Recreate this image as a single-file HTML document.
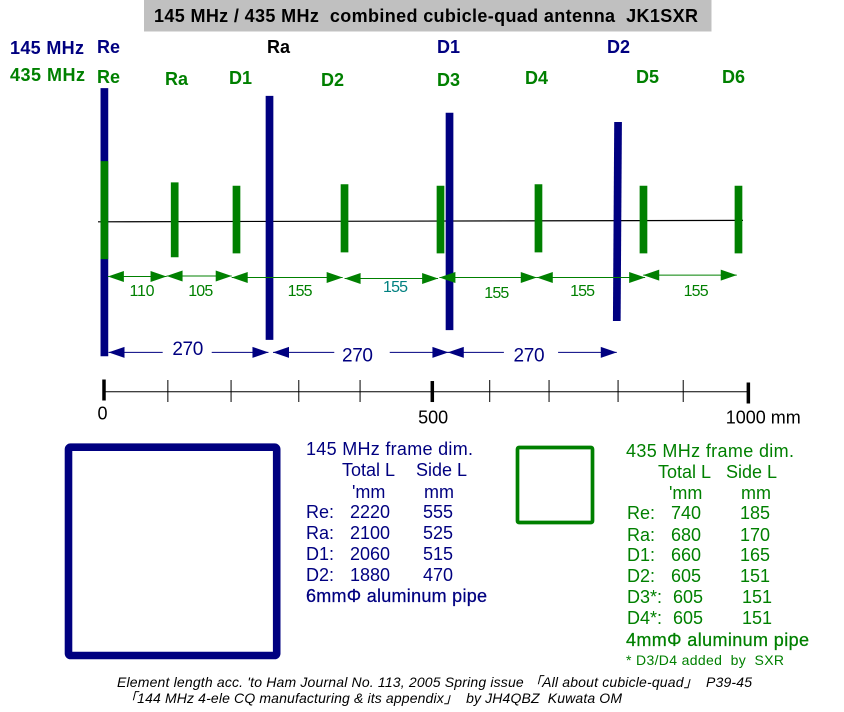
<!DOCTYPE html>
<html lang="en">
<head>
<meta charset="utf-8">
<title>145 MHz / 435 MHz combined cubicle-quad antenna</title>
<style>
html,body{margin:0;padding:0;background:#fff;width:844px;height:712px;overflow:hidden}
svg{display:block;font-family:"Liberation Sans","Noto Sans CJK JP",sans-serif}
.b{font-weight:bold;font-size:18px}
.t{font-size:18px}
.n{fill:#000080}
.g{fill:#008000}
.f{font-size:14px;font-style:italic;fill:#000}
</style>
</head>
<body>
<svg id="chart" xmlns="http://www.w3.org/2000/svg" width="844" height="712" viewBox="0 0 844 712">
<rect x="144" y="0" width="567.500" height="31.500" fill="#c0c0c0"/>
<text class="b" x="154" y="22" textLength="544">145 MHz / 435 MHz &#160;combined cubicle-quad antenna &#160;JK1SXR</text>

<text class="b n" x="10" y="54" textLength="74">145 MHz</text>
<text class="b g" x="10" y="81" textLength="75">435 MHz</text>

<text class="b n" x="97" y="53">Re</text>
<text class="b" fill="#000" x="267" y="53">Ra</text>
<text class="b n" x="437" y="53">D1</text>
<text class="b n" x="607" y="53">D2</text>

<text class="b g" x="97" y="83">Re</text>
<text class="b g" x="165" y="85">Ra</text>
<text class="b g" x="229" y="84">D1</text>
<text class="b g" x="321" y="86">D2</text>
<text class="b g" x="437" y="86">D3</text>
<text class="b g" x="525" y="84">D4</text>
<text class="b g" x="636" y="83">D5</text>
<text class="b g" x="722" y="83">D6</text>

<line x1="98" y1="221.800" x2="743" y2="220.400" stroke="#000" stroke-width="1.200"/>
<g id="marks"></g>

<rect x="68.500" y="447.200" width="208.200" height="208.300" rx="2" fill="none" stroke="#000080" stroke-width="7.600"/>
<rect x="517.500" y="447.500" width="75" height="75" rx="1.500" fill="none" stroke="#008000" stroke-width="3.700"/>

<g class="t n">
<text x="306" y="455" textLength="167">145 MHz frame dim.</text>
<text x="342" y="476">Total L</text>
<text x="416" y="476">Side L</text>
<text x="352" y="498">'mm</text>
<text x="424" y="498">mm</text>
<text x="306" y="518">Re:</text>
<text x="350" y="518">2220</text>
<text x="423" y="518">555</text>
<text x="306" y="539">Ra:</text>
<text x="350" y="539">2100</text>
<text x="423" y="539">525</text>
<text x="306" y="560">D1:</text>
<text x="350" y="560">2060</text>
<text x="423" y="560">515</text>
<text x="306" y="581">D2:</text>
<text x="350" y="581">1880</text>
<text x="423" y="581">470</text>
<text x="306" y="602" textLength="181" stroke="#000080" stroke-width="0.250">6mmΦ aluminum pipe</text>
</g>

<g class="t g">
<text x="626" y="457" textLength="168">435 MHz frame dim.</text>
<text x="658" y="478">Total L</text>
<text x="726" y="478">Side L</text>
<text x="669" y="499">'mm</text>
<text x="741" y="499">mm</text>
<text x="627" y="519">Re:</text>
<text x="671" y="519">740</text>
<text x="740" y="519">185</text>
<text x="627" y="541">Ra:</text>
<text x="671" y="541">680</text>
<text x="740" y="541">170</text>
<text x="627" y="561">D1:</text>
<text x="671" y="561">660</text>
<text x="740" y="561">165</text>
<text x="627" y="582">D2:</text>
<text x="671" y="582">605</text>
<text x="740" y="582">151</text>
<text x="627" y="603">D3*:</text>
<text x="673" y="603">605</text>
<text x="742" y="603">151</text>
<text x="627" y="624">D4*:</text>
<text x="673" y="624">605</text>
<text x="742" y="624">151</text>
<text x="626" y="646" textLength="183" stroke="#008000" stroke-width="0.250">4mmΦ aluminum pipe</text>
</g>
<text class="g" font-size="14" x="626" y="665" textLength="158">* D3/D4 added &#160;by &#160;SXR</text>

<text class="f" x="117" y="687" textLength="635">Element length acc. 'to Ham Journal No. 113, 2005 Spring issue 「All about cubicle-quad」 &#160;P39-45</text>
<text class="f" x="123" y="703" textLength="499">「144 MHz 4-ele CQ manufacturing &amp; its appendix」 &#160;by JH4QBZ &#160;Kuwata OM</text>
</svg>
<script>
// Element positions along the boom and drawn extents above / below it, in mm.
const elem145Names = ['re', 'ra', 'd1', 'd2'];
const elem145At = [0.6, 256.6, 535.7, 797];
const elem145AtFoot = [0.6, 256.6, 535.7, 795];
const elem145Up = [275, 259, 224, 205];
const elem145Down = [280, 246, 226, 207];

const elem435Names = ['re', 'ra', 'd1', 'd2', 'd3', 'd4', 'd5', 'd6'];
const elem435At = [0.6, 109.6, 205.4, 372.9, 521.7, 673.6, 836.4, 983.7];
const elem435Up = [124, 80, 73, 76, 73, 76, 73, 73];
const elem435Down = [79, 75, 67, 65, 67, 65, 67, 67];

// 435 MHz spacing dimensions
const greenSpanStart = [6, 97, 198, 373, 520, 671, 836];
const greenSpanEnd = [97, 198, 370, 518, 671, 839, 981];
const greenSpanDrop = [115, 114, 117, 119, 117, 117, 112];
const greenLabels = ['110', '105', '155', '155', '155', '155', '155'];
const greenLabelAt = [59, 150, 304, 452, 609, 742, 918];
const greenLabelDrop = [155, 155, 155, 147, 159, 155, 155];

// 145 MHz spacing dimensions
const blueSpanStart = [7, 262, 533];
const blueSpanEnd = [255, 534, 795];
const blueGapStart = [91, 357, 620];
const blueGapEnd = [167, 443, 704];
const blueSpanDrop = [272, 272, 272];
const blueLabels = ['270', '270', '270'];
const blueLabelAt = [130, 393, 659];
const blueLabelDrop = [277, 291, 291];

// Ruler
const rulerTicks = [0, 99, 197, 302, 397, 509, 598, 690, 797, 898, 999];
const rulerMajor = [0, 509, 999];
const rulerLabels = ['0', '500', '1000 mm'];
const rulerLabelAt = [-10, 487, 964];
const rulerLabelDrop = [411, 419, 419];

const SVG_NS = 'http://www.w3.org/2000/svg';
const BLUE = '#000080';
const GREEN = '#008000';
const root = document.getElementById('marks');

function x(mm) { return 104 + mm * 0.645; }
function y(mm) { return 221 + mm * 0.483; }
function make(tag, attrs) {
  const el = document.createElementNS(SVG_NS, tag);
  for (const k in attrs) el.setAttribute(k, attrs[k]);
  root.appendChild(el);
  return el;
}
function head(tipX, dir, cy, color) {
  return make('polygon', {
    points: tipX + ',' + cy + ' ' + (tipX + dir * 16) + ',' + (cy - 5.5) + ' ' + (tipX + dir * 16) + ',' + (cy + 5.5),
    fill: color
  });
}

// 145 MHz elements
elem145At.forEach(function (mm, i) {
  const el = make('line', {
    x1: x(mm), y1: y(-elem145Up[i]), x2: x(elem145AtFoot[i]), y2: y(elem145Down[i]),
    stroke: BLUE, 'stroke-width': 7.7
  });
  
  
});

// 435 MHz elements
elem435At.forEach(function (mm, i) {
  const el = make('line', {
    x1: x(mm), y1: y(-elem435Up[i]), x2: x(mm), y2: y(elem435Down[i]),
    stroke: GREEN, 'stroke-width': 7.7
  });
  
  
});

// 435 MHz dimension arrows
greenSpanStart.forEach(function (mm, i) {
  const cy = y(greenSpanDrop[i]);
  const shaft = make('line', { x1: x(mm), y1: cy, x2: x(greenSpanEnd[i]), y2: cy, stroke: GREEN, 'stroke-width': 1 });
  
  
  const left = head(x(mm), 1, cy, GREEN);
  
  
  const right = head(x(greenSpanEnd[i]), -1, cy, GREEN);
  
  
  const label = make('text', {
    x: x(greenLabelAt[i]), y: y(greenLabelDrop[i]), 'text-anchor': 'middle', 'font-size': 16, textLength: 25,
    fill: i === 3 ? '#008080' : GREEN
  });
  label.textContent = greenLabels[i];
  
  
});

// 145 MHz dimension arrows
blueSpanStart.forEach(function (mm, i) {
  const cy = y(blueSpanDrop[i]);
  const shaftA = make('line', { x1: x(mm), y1: cy, x2: x(blueGapStart[i]), y2: cy, stroke: BLUE, 'stroke-width': 1 });
  
  
  const shaftB = make('line', { x1: x(blueGapEnd[i]), y1: cy, x2: x(blueSpanEnd[i]), y2: cy, stroke: BLUE, 'stroke-width': 1 });
  
  
  const left = head(x(mm), 1, cy, BLUE);
  
  
  const right = head(x(blueSpanEnd[i]), -1, cy, BLUE);
  
  
  const label = make('text', {
    x: x(blueLabelAt[i]), y: y(blueLabelDrop[i]), 'text-anchor': 'middle', 'font-size': 19, textLength: 31, fill: BLUE
  });
  label.textContent = blueLabels[i];
  
  
});

// Ruler
const rulerLine = make('line', {
  x1: x(rulerTicks[0]), y1: 391.7, x2: x(rulerTicks[rulerTicks.length - 1]), y2: 391.7, stroke: '#000', 'stroke-width': 1
});


rulerTicks.forEach(function (mm) {
  const major = rulerMajor.indexOf(mm) >= 0;
  const t = make('line', {
    x1: x(mm), y1: major ? 379.5 + mm * 0.003 : 380, x2: x(mm), y2: major ? 400.5 + mm * 0.003 : 402,
    stroke: '#000', 'stroke-width': major ? 3.5 : 1
  });
  
  
});
rulerLabels.forEach(function (text, i) {
  const label = make('text', { x: x(rulerLabelAt[i]), y: y(rulerLabelDrop[i]), 'font-size': 18, fill: '#000' });
  label.textContent = text;
  
  
});
</script>
</body>
</html>
